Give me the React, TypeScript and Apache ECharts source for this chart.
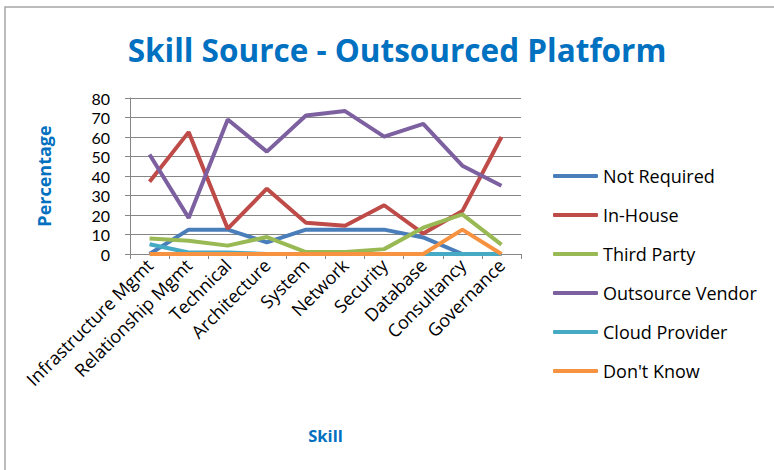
import React, { useEffect, useRef } from "react";
import * as echarts from "echarts";

const categories = [
  "Infrastructure Mgmt",
  "Relationship Mgmt",
  "Technical",
  "Architecture",
  "System",
  "Network",
  "Security",
  "Database",
  "Consultancy",
  "Governance",
];

const notRequired = [0, 12.5, 12.5, 6, 12.5, 12.5, 12.5, 8.5, 0, 0];
const inHouse = [37, 62.5, 13, 33.5, 16, 14.5, 25, 10.5, 22, 60];
const thirdParty = [8, 6.8, 4.3, 8.7, 1, 1, 2.5, 13.5, 20.3, 4.8];
const outsourceVendor = [51, 18.5, 69, 52.5, 71, 73.3, 60.2, 66.7, 45.3, 35];
const cloudProvider = [5, 0.8, 0.8, 0, 0, 0, 0, 0, 0, 0];
const dontKnow = [0, 0, 0, 0, 0, 0, 0, 0, 12.5, 0];

const seriesNames = [
  "Not Required",
  "In-House",
  "Third Party",
  "Outsource Vendor",
  "Cloud Provider",
  "Don't Know",
];
const seriesData = [notRequired, inHouse, thirdParty, outsourceVendor, cloudProvider, dontKnow];
const colors = ["#4A7EBB", "#BE4B48", "#98B954", "#7D60A0", "#46AAC5", "#F69240"];

const FONT = "'Open Sans', Lato, sans-serif";

export default function App() {
  const ref = useRef<HTMLDivElement>(null);
  useEffect(() => {
    if (!ref.current) return;
    const chart = echarts.init(ref.current, undefined, { renderer: "svg" });
    chart.setOption({
      animation: false,
      backgroundColor: "#ffffff",
      color: colors,
      title: {
        text: "Skill Source - Outsourced Platform",
        left: 392,
        textAlign: "center",
        top: 28,
        textStyle: {
          fontFamily: FONT,
          fontWeight: "bold",
          fontSize: 31.5,
          color: "#0070C0",
        },
      },
      graphic: [
        {
          type: "rect",
          shape: { x: 5, y: 7, width: 800, height: 500 },
          style: { fill: "none", stroke: "#a6a6a6", lineWidth: 1.5 },
          silent: true,
        },
      ],
      legend: {
        orient: "vertical",
        left: 548,
        top: 160,
        itemWidth: 45,
        itemHeight: 4,
        itemGap: 17,
        icon: "roundRect",
        data: seriesNames,
        textStyle: {
          fontFamily: FONT,
          fontSize: 18,
          lineHeight: 22,
          color: "#000",
        },
      },
      grid: {
        left: 130,
        right: 253,
        top: 98,
        bottom: 216,
        containLabel: false,
      },
      xAxis: {
        type: "category",
        data: categories,
        boundaryGap: true,
        name: "Skill",
        nameLocation: "middle",
        nameGap: 173,
        nameTextStyle: {
          fontFamily: FONT,
          fontWeight: "bold",
          fontSize: 16.5,
          color: "#0070C0",
        },
        axisLine: { lineStyle: { color: "#868686", width: 1 } },
        axisTick: { show: true, length: 5, lineStyle: { color: "#868686" } },
        axisLabel: {
          rotate: 45,
          interval: 0,
          margin: 8,
          fontFamily: FONT,
          fontSize: 18,
          color: "#000",
        },
      },
      yAxis: {
        type: "value",
        min: 0,
        max: 80,
        interval: 10,
        name: "Percentage",
        nameLocation: "middle",
        nameGap: 77,
        nameTextStyle: {
          fontFamily: FONT,
          fontWeight: "bold",
          fontSize: 18,
          color: "#0070C0",
        },
        axisLine: { show: true, lineStyle: { color: "#868686", width: 1 } },
        axisTick: { show: true, length: 5, lineStyle: { color: "#868686" } },
        splitLine: { show: true, lineStyle: { color: "#868686", width: 1 } },
        axisLabel: {
          margin: 20,
          fontFamily: "Lato, sans-serif",
          fontSize: 16,
          lineHeight: 16,
          color: "#000",
        },
      },
      series: seriesNames.map((name, i) => ({
        name,
        type: "line",
        data: seriesData[i],
        symbol: "none",
        lineStyle: { width: 4, color: colors[i] },
        itemStyle: { color: colors[i] },
      })),
    });
    return () => chart.dispose();
  }, []);
  return (
    <div
      ref={ref}
      style={{ position: "fixed", left: 0, top: 0, width: 774, height: 470 }}
    />
  );
}
